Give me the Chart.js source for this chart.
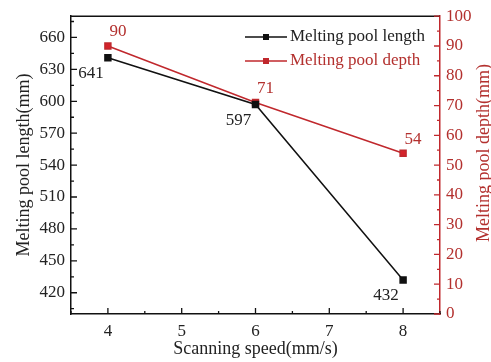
<!DOCTYPE html>
<html>
<head>
<meta charset="utf-8">
<script src="https://cdn.jsdelivr.net/npm/chart.js@4.4.1/dist/chart.umd.min.js"></script>
<style>
html, body { margin: 0; padding: 0; background: #fff; }
#wrap { width: 491px; height: 362px; }
</style>
</head>
<body>
<div id="wrap"><canvas id="chart" width="491" height="362"></canvas></div>
<script>
// data
const speeds = [4, 6, 8];
const poolLength = [641, 597, 432];
const poolDepth = [90, 71, 54];

const speedTicks = [4, 5, 6, 7, 8];
const lengthTicks = [420, 450, 480, 510, 540, 570, 600, 630, 660];
const depthTicks = [0, 10, 20, 30, 40, 50, 60, 70, 80, 90, 100];

const seriesNames = ['Melting pool length', 'Melting pool depth'];
const xTitle = 'Scanning speed(mm/s)';
const yTitle = 'Melting pool length(mm)';
const y1Title = 'Melting pool depth(mm)';

const BLACK = '#111111';
const TEXT = '#222222';
const RED = '#c0282d';
const RED_TEXT = '#b3302e';
const FONT = 'Liberation Serif';

// minor ticks halfway between the majors, kept inside the axis range
function minorsOf(ticks, min, max) {
    const step = ticks[1] - ticks[0];
    const out = [];
    ticks.forEach(function(t) {
        if (t - step / 2 >= min && out.indexOf(t - step / 2) < 0) out.push(t - step / 2);
        if (t + step / 2 <= max) out.push(t + step / 2);
    });
    return out;
}

const extras = {
    id: 'extras',
    afterDatasetsDraw(chart) {
        const ctx = chart.ctx;
        const area = chart.chartArea;
        const sx = chart.scales.x, sy = chart.scales.y, sy1 = chart.scales.y1;
        ctx.save();

        // top frame line
        ctx.strokeStyle = BLACK;
        ctx.lineWidth = 1.5;
        ctx.beginPath();
        ctx.moveTo(area.left, area.top);
        ctx.lineTo(area.right, area.top);
        ctx.stroke();

        // inward ticks
        function tickSet(scale, values, len, color, side) {
            ctx.strokeStyle = color;
            ctx.lineWidth = 1.3;
            ctx.beginPath();
            values.forEach(function(v) {
                const p = scale.getPixelForValue(v);
                if (side === 'bottom') { ctx.moveTo(p, area.bottom); ctx.lineTo(p, area.bottom - len); }
                if (side === 'left') { ctx.moveTo(area.left, p); ctx.lineTo(area.left + len, p); }
                if (side === 'right') { ctx.moveTo(area.right, p); ctx.lineTo(area.right - len, p); }
            });
            ctx.stroke();
        }
        tickSet(sx, speedTicks, 6, BLACK, 'bottom');
        tickSet(sx, minorsOf(speedTicks, 3.5, 8.5), 3, BLACK, 'bottom');
        tickSet(sy, lengthTicks, 6, BLACK, 'left');
        tickSet(sy, minorsOf(lengthTicks, 400, 680), 3, BLACK, 'left');
        tickSet(sy1, depthTicks, 6, RED, 'right');
        tickSet(sy1, minorsOf(depthTicks, 0, 100), 3, RED, 'right');

        // value labels
        ctx.font = '17px "' + FONT + '"';
        ctx.textAlign = 'center';
        ctx.textBaseline = 'middle';
        const m0 = chart.getDatasetMeta(0).data;
        const m1 = chart.getDatasetMeta(1).data;
        ctx.fillStyle = TEXT;
        m0.forEach(function(pt, i) { ctx.fillText(String(poolLength[i]), pt.x - 17, pt.y + 16); });
        ctx.fillStyle = RED_TEXT;
        m1.forEach(function(pt, i) { ctx.fillText(String(poolDepth[i]), pt.x + 10, pt.y - 14); });

        // legend
        const legendColors = [[BLACK, TEXT], [RED, RED_TEXT]];
        ctx.textAlign = 'left';
        seriesNames.forEach(function(name, i) {
            const y = 37 + i * 24;
            ctx.strokeStyle = legendColors[i][0];
            ctx.lineWidth = 1.5;
            ctx.beginPath();
            ctx.moveTo(245, y);
            ctx.lineTo(287, y);
            ctx.stroke();
            ctx.fillStyle = legendColors[i][0];
            ctx.fillRect(263, y - 3, 6, 6);
            ctx.fillStyle = legendColors[i][1];
            ctx.fillText(name, 290, y);
        });

        // right axis title, reading bottom to top
        ctx.save();
        ctx.translate(484, 153);
        ctx.rotate(-Math.PI / 2);
        ctx.font = '18px "' + FONT + '"';
        ctx.fillStyle = RED_TEXT;
        ctx.textAlign = 'center';
        ctx.textBaseline = 'middle';
        ctx.fillText(y1Title, 0, 0);
        ctx.restore();

        ctx.restore();
    }
};

new Chart(document.getElementById('chart'), {
    type: 'line',
    data: {
        datasets: [{
            label: seriesNames[0],
            data: speeds.map(function(x, i) { return { x: x, y: poolLength[i] }; }),
            yAxisID: 'y',
            borderColor: BLACK,
            backgroundColor: BLACK,
            borderWidth: 1.5,
            pointStyle: 'rect',
            pointRadius: 4.2,
            tension: 0
        }, {
            label: seriesNames[1],
            data: speeds.map(function(x, i) { return { x: x, y: poolDepth[i] }; }),
            yAxisID: 'y1',
            borderColor: RED,
            backgroundColor: '#d4232b',
            borderWidth: 1.5,
            pointStyle: 'rect',
            pointRadius: 4.2,
            tension: 0
        }]
    },
    options: {
        responsive: false,
        animation: false,
        layout: { padding: { top: 16, left: 0, right: 0, bottom: 0 } },
        plugins: { legend: { display: false }, tooltip: { enabled: false } },
        scales: {
            x: {
                type: 'linear',
                position: 'bottom',
                min: 3.5,
                max: 8.5,
                afterBuildTicks: function(s) { s.ticks = speedTicks.map(function(v) { return { value: v }; }); },
                afterFit: function(s) { s.height = 48; },
                grid: { display: false, drawTicks: false },
                border: { display: true, color: BLACK, width: 1.5 },
                ticks: { padding: 7, color: TEXT, font: { family: FONT, size: 17 } },
                title: { display: true, text: xTitle, color: TEXT, padding: { top: 2, bottom: 2 }, font: { family: FONT, size: 18 } }
            },
            y: {
                position: 'left',
                min: 400,
                max: 680,
                afterBuildTicks: function(s) { s.ticks = lengthTicks.map(function(v) { return { value: v }; }); },
                afterFit: function(s) { s.width = 71; },
                grid: { display: false, drawTicks: false },
                border: { display: true, color: BLACK, width: 1.5 },
                ticks: { padding: 6, color: TEXT, font: { family: FONT, size: 17 } },
                title: { display: true, text: yTitle, color: TEXT, padding: { top: 13, bottom: 0 }, font: { family: FONT, size: 18 } }
            },
            y1: {
                position: 'right',
                min: 0,
                max: 100,
                afterBuildTicks: function(s) { s.ticks = depthTicks.map(function(v) { return { value: v }; }); },
                afterFit: function(s) { s.width = 51; },
                grid: { display: false, drawTicks: false },
                border: { display: true, color: RED, width: 1.5 },
                ticks: { padding: 6, color: RED_TEXT, font: { family: FONT, size: 17 } }
            }
        }
    },
    plugins: [extras]
});
</script>
</body>
</html>
